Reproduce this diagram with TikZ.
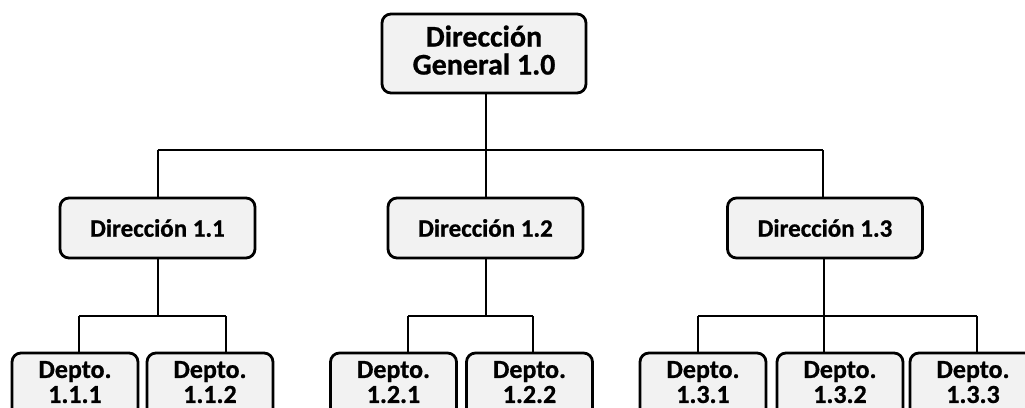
\documentclass[tikz,border=0pt]{standalone}
\usepackage{fontspec}
\setmainfont{Carlito}[BoldFeatures={FakeBold=0.8}]
\definecolor{boxfill}{HTML}{F2F2F2}
\tikzset{
  unit/.style={draw=black, line width=2.8pt, fill=boxfill, rounded corners=9pt,
    align=center, inner sep=0pt, font=\bfseries},
  topunit/.style={unit, minimum width=204pt, minimum height=79pt,
    font=\fontsize{30}{28}\selectfont\bfseries},
  midunit/.style={unit, minimum width=195pt, minimum height=60pt,
    font=\fontsize{25}{28}\selectfont\bfseries},
  deptunit/.style={unit, minimum width=126pt, minimum height=68pt,
    font=\fontsize{26}{25}\selectfont\bfseries},
  link/.style={draw=black, line width=2pt}
}
% extra depth below the last line, lifting the text inside its box
\newcommand{\liftby}[1]{\rule[-#1]{0pt}{0pt}}
\begin{document}
\begin{tikzpicture}[x=1pt,y=-1pt]
\useasboundingbox (0,0) rectangle (1025,407);
\clip (0,0) rectangle (1025,407);

% top level
\node[topunit] (gen) at (484,53.5) {Dirección\\General 1.0\liftby{7pt}};

% directions
\node[midunit] (d1) at (157.5,228) {Dirección 1.1};
\node[midunit] (d2) at (485.5,228) {Dirección 1.2};
\node[midunit] (d3) at (825,228) {Dirección 1.3};

% departments
\node[deptunit] (p111) at (75,387)  {Depto.\\1.1.1\liftby{10pt}};
\node[deptunit] (p112) at (210,387) {Depto.\\1.1.2\liftby{10pt}};
\node[deptunit] (p121) at (393.5,387) {Depto.\\1.2.1\liftby{10pt}};
\node[deptunit] (p122) at (529.5,387) {Depto.\\1.2.2\liftby{10pt}};
\node[deptunit] (p131) at (703,387) {Depto.\\1.3.1\liftby{10pt}};
\node[deptunit] (p132) at (840,387) {Depto.\\1.3.2\liftby{10pt}};
\node[deptunit] (p133) at (973,387) {Depto.\\1.3.3\liftby{10pt}};

% bus junctions
\coordinate (bus0) at (485.5,150);
\coordinate (bus1) at (157.5,150);
\coordinate (bus3) at (823,150);
\coordinate (j111) at (79,316);
\coordinate (j112) at (226,316);
\coordinate (j121) at (408,316);
\coordinate (j122) at (533,316);
\coordinate (j131) at (698,316);
\coordinate (j132) at (824,316);
\coordinate (j133) at (977,316);

% first level connectors
\draw[link] (gen.south -| bus0) -- (bus0);
\draw[link] (bus1) -- (bus3);
\draw[link] (bus1) -- (d1.north);
\draw[link] (bus0) -- (d2.north);
\draw[link] (bus3) -- (d3.north -| bus3);

% second level connectors
\draw[link] (d1.south) -- (d1.south |- j111);
\draw[link] (j111) -- (j112);
\draw[link] (j111) -- (p111.north -| j111);
\draw[link] (j112) -- (p112.north -| j112);

\draw[link] (d2.south) -- (d2.south |- j121);
\draw[link] (j121) -- (j122);
\draw[link] (j121) -- (p121.north -| j121);
\draw[link] (j122) -- (p122.north -| j122);

\draw[link] (d3.south -| j132) -- (j132);
\draw[link] (j131) -- (j133);
\draw[link] (j131) -- (p131.north -| j131);
\draw[link] (j132) -- (p132.north -| j132);
\draw[link] (j133) -- (p133.north -| j133);
\end{tikzpicture}
\end{document}
